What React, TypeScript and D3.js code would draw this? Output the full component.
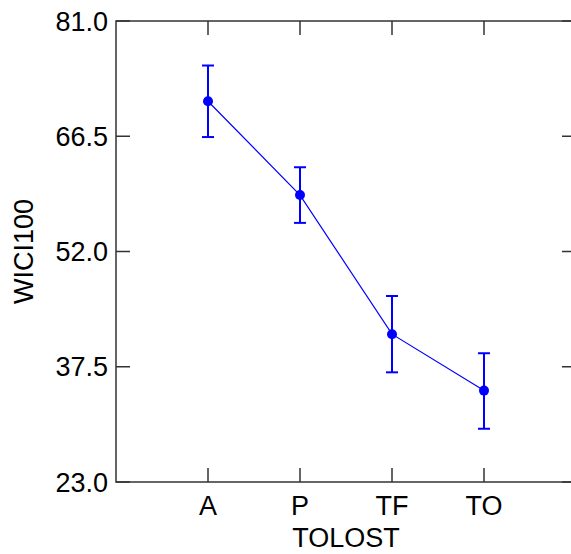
import React from "react";
import * as d3 from "d3";

const categories = ["A", "P", "TF", "TO"];
const means = [70.9, 59.1, 41.6, 34.5];
const upper = [75.4, 62.6, 46.4, 39.2];
const lower = [66.4, 55.6, 36.8, 29.7];
const yTicks = [23.0, 37.5, 52.0, 66.5, 81.0];

export default function App() {
  const W = 571, H = 554;
  const left = 116, right = 576, top = 21, bottom = 482;
  const x = d3.scaleLinear().domain([0, categories.length + 1]).range([left, right]);
  const y = d3.scaleLinear().domain([23, 81]).range([bottom, top]);
  const line = d3.line<number>().x((_, i) => x(i + 1)).y((d) => y(d));
  const blue = "#0000ff";
  const axis = "#333";
  const font = "Liberation Sans, Arial, sans-serif";
  const fs = 27;
  const tl = 14;
  return (
    <svg width={W} height={H} style={{ position: "absolute", left: 0, top: 0 }} fontFamily={font}>
      <rect x={0} y={0} width={W} height={H} fill="white" />
      <rect x={left} y={top} width={right - left} height={bottom - top} fill="none" stroke={axis} strokeWidth={1.5} />
      {yTicks.map((t) => (
        <g key={t}>
          <line x1={left} x2={left + tl} y1={y(t)} y2={y(t)} stroke={axis} strokeWidth={1.5} />
          <line x1={right - tl} x2={right} y1={y(t)} y2={y(t)} stroke={axis} strokeWidth={1.5} />
          <text x={left - 8} y={y(t)} dy="0.36em" textAnchor="end" fontSize={fs} fill="#000">
            {t.toFixed(1)}
          </text>
        </g>
      ))}
      {categories.map((c, i) => (
        <g key={c}>
          <line x1={x(i + 1)} x2={x(i + 1)} y1={bottom} y2={bottom - tl} stroke={axis} strokeWidth={1.5} />
          <line x1={x(i + 1)} x2={x(i + 1)} y1={top} y2={top + tl} stroke={axis} strokeWidth={1.5} />
          <text x={x(i + 1)} y={515} textAnchor="middle" fontSize={fs} fill="#000">
            {c}
          </text>
        </g>
      ))}
      <text x={(left + right) / 2} y={547} textAnchor="middle" fontSize={fs} fill="#000">
        TOLOST
      </text>
      <text
        transform={`translate(33, ${(top + bottom) / 2}) rotate(-90)`}
        textAnchor="middle"
        fontSize={fs}
        fill="#000"
      >
        WICI100
      </text>
      <path d={line(means) || ""} fill="none" stroke={blue} strokeWidth={1.2} />
      {means.map((m, i) => (
        <g key={i}>
          <line x1={x(i + 1)} x2={x(i + 1)} y1={y(upper[i])} y2={y(lower[i])} stroke={blue} strokeWidth={2} />
          <line x1={x(i + 1) - 6} x2={x(i + 1) + 6} y1={y(upper[i])} y2={y(upper[i])} stroke={blue} strokeWidth={2} />
          <line x1={x(i + 1) - 6} x2={x(i + 1) + 6} y1={y(lower[i])} y2={y(lower[i])} stroke={blue} strokeWidth={2} />
          <circle cx={x(i + 1)} cy={y(m)} r={5} fill={blue} />
        </g>
      ))}
    </svg>
  );
}
